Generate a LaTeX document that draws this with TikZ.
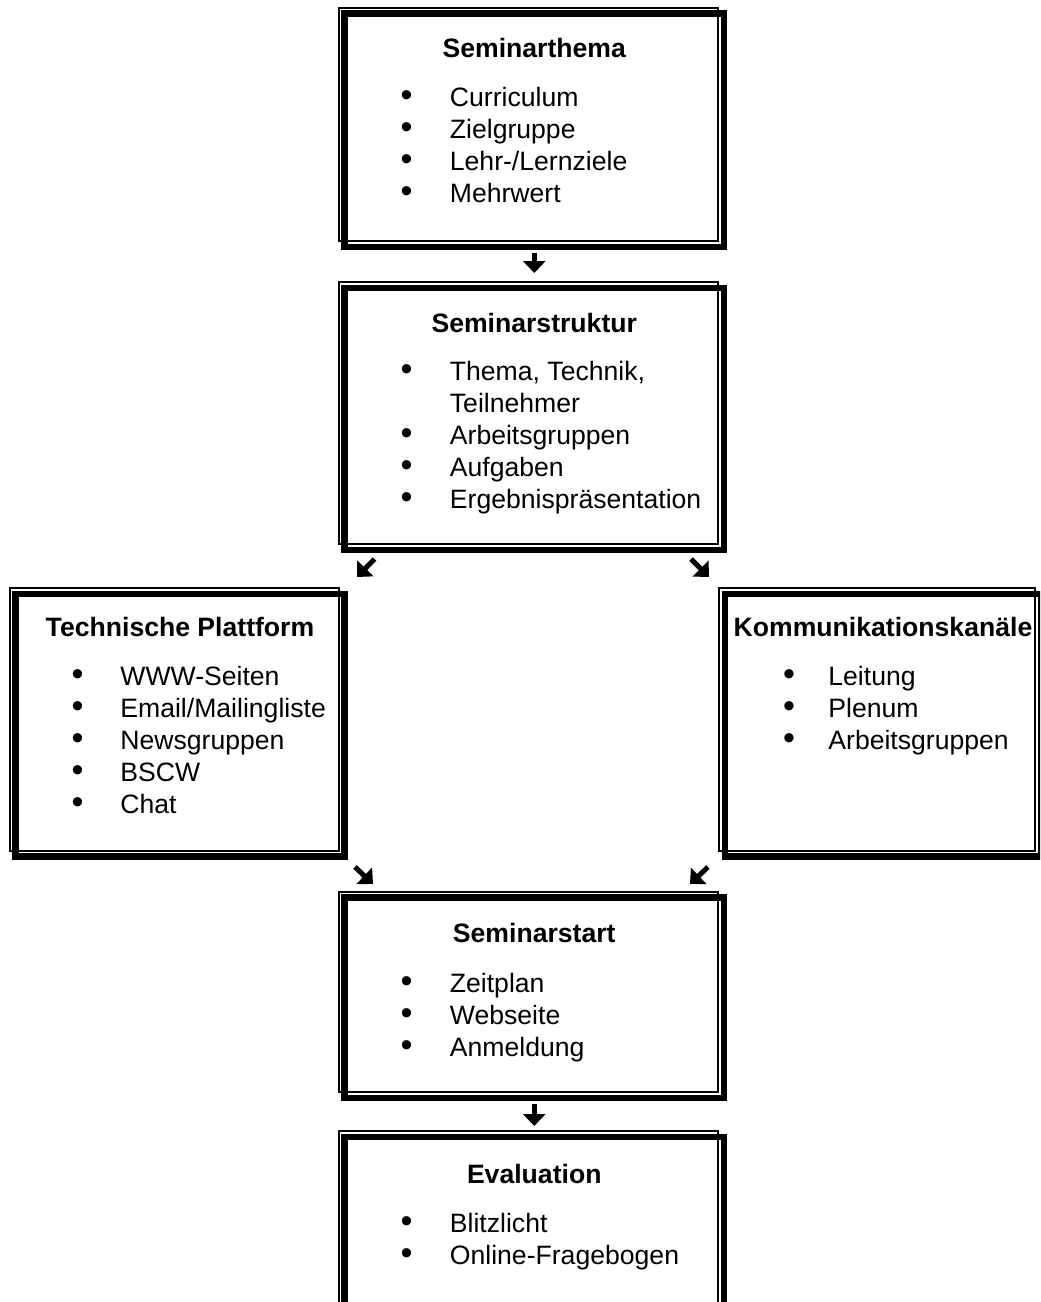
\documentclass[tikz,border=0pt]{standalone}
\usepackage{fontspec}
\setmainfont{Liberation Sans}
\usetikzlibrary{fit,arrows.meta}

\begin{document}
\begin{tikzpicture}[x=0.5pt,y=-0.5pt]
	\tikzset{
		kasten/.style={draw, line width=3.2pt, inner sep=0pt, outer sep=0pt},
		innenlinie/.style={draw, line width=1pt},
		pfeil/.style={line width=2.5pt, -{Triangle[width=11pt,length=6pt]}},
		titel/.style={font=\fontsize{13.3pt}{16pt}\selectfont\bfseries, anchor=base},
		eintrag/.style={font=\fontsize{13.3pt}{16pt}\selectfont, anchor=base west, inner sep=0pt},
		punkt/.style={font=\fontsize{17pt}{16pt}\selectfont, anchor=base, inner sep=0pt},
	}

	\useasboundingbox (0,0) rectangle (1040,1302);
	\clip (0,0) rectangle (1040,1302);

	% Kaesten
	\node[kasten, fit={(344.5,13.5) (724,247)}] (thema) {};
	\node[kasten, fit={(344.5,288) (724,550)}] (struktur) {};
	\node[kasten, fit={(15.5,594) (344.5,856.5)}] (plattform) {};
	\node[kasten, fit={(725,594) (1041,856.5)}] (kanaele) {};
	\node[kasten, fit={(344.5,897.5) (724,1098)}] (start) {};
	\node[kasten, fit={(344.5,1137) (724,1330)}] (evaluation) {};
	\foreach \k in {thema,struktur,plattform,kanaele,start,evaluation}
		\draw[innenlinie] ([shift={(-6,-6)}]\k.north west) rectangle ([shift={(-6,-6)}]\k.south east);

	% Titel
	\node[titel] (thema-t) at ([shift={(0,44)}]thema.north) {Seminarthema};
	\node[titel] (struktur-t) at ([shift={(0,44)}]struktur.north) {Seminarstruktur};
	\node[titel] (plattform-t) at ([shift={(0,42)}]plattform.north) {Technische Plattform};
	\node[titel] (kanaele-t) at ([shift={(0,42)}]kanaele.north) {Kommunikationskanäle};
	\node[titel] (start-t) at ([shift={(0,45)}]start.north) {Seminarstart};
	\node[titel] (evaluation-t) at ([shift={(0,46)}]evaluation.north) {Evaluation};

	% Listen
	\foreach \txt [count=\i from 0] in {Curriculum, Zielgruppe, Lehr-/Lernziele, Mehrwert} {
		\node[punkt] (thema-p\i) at ([shift={(62,93+32*\i)}]thema.north west) {•};
		\node[eintrag] (thema-e\i) at ([shift={(105,93+32*\i)}]thema.north west) {\txt};
	}
	\node[punkt] (struktur-p0) at ([shift={(62,92)}]struktur.north west) {•};
	\node[eintrag] (struktur-e0) at ([shift={(105,92)}]struktur.north west) {Thema, Technik,};
	\node[eintrag] (struktur-e1) at ([shift={(105,124)}]struktur.north west) {Teilnehmer};
	\foreach \txt [count=\i from 2] in {Arbeitsgruppen, Aufgaben, Ergebnispräsentation} {
		\node[punkt] (struktur-p\i) at ([shift={(62,92+32*\i)}]struktur.north west) {•};
		\node[eintrag] (struktur-e\i) at ([shift={(105,92+32*\i)}]struktur.north west) {\txt};
	}
	\foreach \txt [count=\i from 0] in {WWW-Seiten, Email/Mailingliste, Newsgruppen, BSCW, Chat} {
		\node[punkt] (plattform-p\i) at ([shift={(62,91+32*\i)}]plattform.north west) {•};
		\node[eintrag] (plattform-e\i) at ([shift={(104.5,91+32*\i)}]plattform.north west) {\txt};
	}
	\foreach \txt [count=\i from 0] in {Leitung, Plenum, Arbeitsgruppen} {
		\node[punkt] (kanaele-p\i) at ([shift={(64,91+32*\i)}]kanaele.north west) {•};
		\node[eintrag] (kanaele-e\i) at ([shift={(103,91+32*\i)}]kanaele.north west) {\txt};
	}
	\foreach \txt [count=\i from 0] in {Zeitplan, Webseite, Anmeldung} {
		\node[punkt] (start-p\i) at ([shift={(62,94.5+32*\i)}]start.north west) {•};
		\node[eintrag] (start-e\i) at ([shift={(105,94.5+32*\i)}]start.north west) {\txt};
	}
	\foreach \txt [count=\i from 0] in {Blitzlicht, Online-Fragebogen} {
		\node[punkt] (evaluation-p\i) at ([shift={(62,95+32*\i)}]evaluation.north west) {•};
		\node[eintrag] (evaluation-e\i) at ([shift={(105,95+32*\i)}]evaluation.north west) {\txt};
	}

	% Pfeile
	\draw[pfeil, shorten <=3pt, shorten >=7.5pt] (thema.south) -- (struktur.north);
	\draw[pfeil] ([shift={(30,9)}]struktur.south west) -- ([shift={(12.5,-17)}]plattform.north east);
	\draw[pfeil] ([shift={(-33,9)}]struktur.south east) -- ([shift={(-16,-17)}]kanaele.north west);
	\draw[pfeil] ([shift={(10.5,10.5)}]plattform.south east) -- ([shift={(28.5,-13.5)}]start.north west);
	\draw[pfeil] ([shift={(-17,10.5)}]kanaele.south west) -- ([shift={(-34,-13.5)}]start.north east);
	\draw[pfeil, shorten <=3pt, shorten >=5.5pt] (start.south) -- (evaluation.north);
\end{tikzpicture}
\end{document}
